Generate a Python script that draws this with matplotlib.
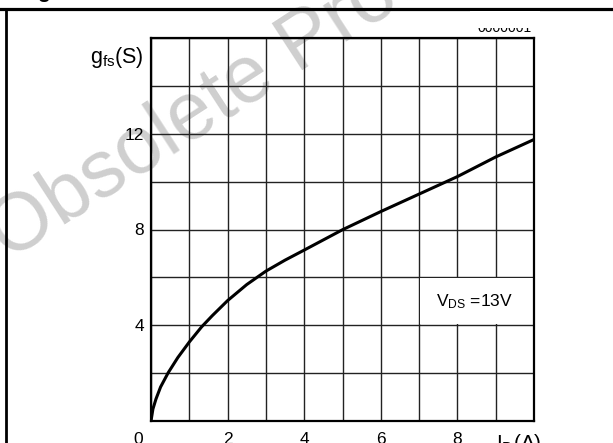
import numpy as np
import matplotlib.pyplot as plt
from matplotlib.patches import Rectangle

plt.rcParams['font.family'] = ['Liberation Sans', 'DejaVu Sans']
plt.rcParams['mathtext.fontset'] = 'custom'
plt.rcParams['mathtext.rm'] = 'Liberation Sans'

# curve: I_D (A) vs g_fs (S), V_DS = 13 V
i_d = [0, 0.05, 0.13, 0.25, 0.45, 0.7, 1.0, 1.32, 1.6, 2.0, 2.5, 3.0, 3.5,
       4.0, 5.0, 6.0, 7.0, 8.0, 9.0, 10.0]
g_fs = [0, 0.5, 0.92, 1.42, 2.02, 2.65, 3.3, 3.93, 4.4, 5.03, 5.7, 6.26, 6.72,
        7.14, 7.99, 8.75, 9.48, 10.21, 11.03, 11.76]

x_ticks = [2, 4, 6, 8]
y_ticks = [4, 8, 12]

W, H = 613, 443
fig = plt.figure(figsize=(W / 100, H / 100), dpi=100)
ax = fig.add_axes([151 / W, 1 - 421 / H, 383 / W, 383 / H])
ax.set_facecolor('none')

ax.set_xlim(0, 10)
ax.set_ylim(0, 16)
ax.set_xticks(np.arange(0, 11, 1))
ax.set_yticks(np.arange(0, 17, 2))
ax.set_xticklabels([str(v) if v in x_ticks else '' for v in range(0, 11)])
ax.set_yticklabels([str(v) if v in y_ticks else '' for v in range(0, 17, 2)])
ax.tick_params(length=0, labelsize=12.5)
ax.tick_params(axis='x', pad=8)
ax.tick_params(axis='y', pad=5)
ax.grid(True, color='#222222', lw=1.0)
ax.set_axisbelow(True)
for s in ax.spines.values():
    s.set_linewidth(1.6)

ax.plot(i_d, g_fs, color='black', lw=2.2, solid_capstyle='butt', zorder=3)

# blank cell for the annotation
ax.add_patch(Rectangle((7.03, 4.04), 2.94, 1.92, facecolor='white', edgecolor='none', zorder=2))
ax.text(8.45, 5.0, r'$\mathregular{V_{DS}}$ =13V', ha='center', va='center', fontsize=12.5, zorder=4)

ax.annotate(r'$\mathregular{g_{fs}(S)}$', xy=(0, 16), xytext=(-5.5, -5), textcoords='offset points',
            ha='right', va='top', fontsize=15.5, annotation_clip=False)
ax.annotate('0', xy=(0, 0), xytext=(-9, -8), textcoords='offset points',
            ha='center', va='top', fontsize=12.5, annotation_clip=False)
ax.annotate(r'$\mathregular{I_D(A)}$', xy=(9.6, 0), xytext=(0, -8), textcoords='offset points',
            ha='center', va='top', fontsize=15, annotation_clip=False)

# watermark
fig.text(8 / W, 1 - 261 / H, 'Obsolete Product', fontsize=58, color='#cfcfcf',
         rotation=33, rotation_mode='anchor', ha='left', va='baseline', zorder=-1)

# page frame
fig.add_artist(plt.Line2D([0, 1], [1 - 9 / H, 1 - 9 / H], color='black', lw=2.3))
fig.add_artist(plt.Line2D([6 / W, 6 / W], [0, 1 - 9 / H], color='black', lw=2.0))
fig.text(44 / W, 1 + 1.5 / H, 'g', fontsize=15, fontweight='bold', ha='center', va='baseline')

# partly hidden drawing number at top right
fig.text(532 / W, 1 - 32 / H, '0000001', fontsize=10, ha='right', va='baseline', zorder=5)
fig.add_artist(Rectangle((470 / W, 1 - 28 / H), 70 / W, 17 / H, transform=fig.transFigure,
                         facecolor='white', edgecolor='none', zorder=6))

fig.savefig('out.png', dpi=100)
